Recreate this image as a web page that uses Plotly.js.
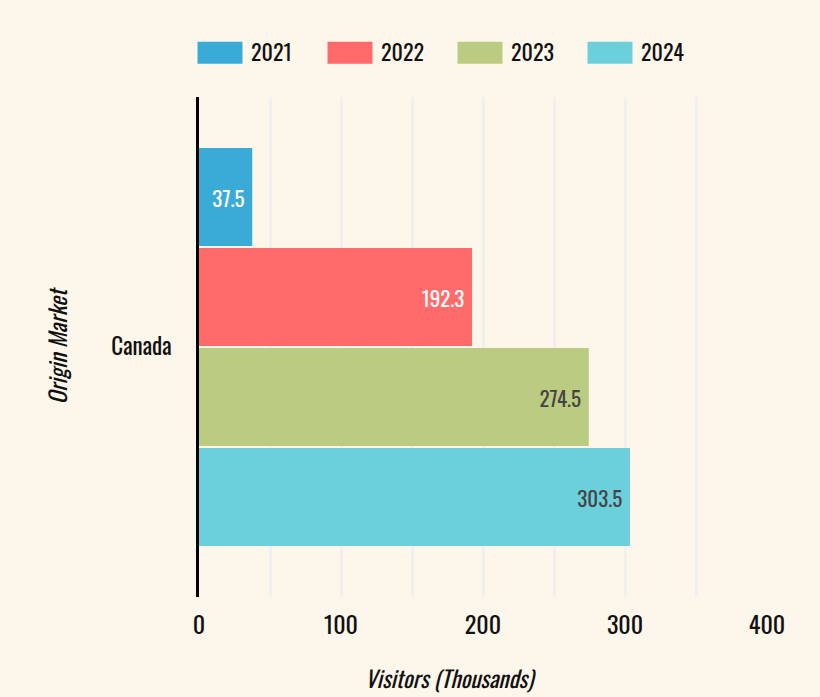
<!DOCTYPE html>
<html>
<head>
<meta charset="utf-8">
<script src="https://cdn.plot.ly/plotly-3.0.1.min.js"></script>
<style>html,body{margin:0;padding:0;background:#fdf6ea;}</style>
</head>
<body>
<div id="chart" style="width:820px;height:697px;"></div>
<script>
const categories = ["Canada"];
const years = ["2021", "2022", "2023", "2024"];
const v2021 = [37.5];
const v2022 = [192.3];
const v2023 = [274.5];
const v2024 = [303.5];
const seriesValues = [v2021, v2022, v2023, v2024];
const colors = ["#3aabd6", "#ff6b6b", "#bccb82", "#6bcfdc"];
const textColors = ["#ffffff", "#ffffff", "#444444", "#444444"];
const FONT = "Oswald, 'Liberation Sans Narrow', 'DejaVu Sans Condensed', sans-serif";

const traces = years.map((y, i) => ({
  type: "bar",
  orientation: "h",
  name: y,
  y: categories,
  x: seriesValues[i],
  marker: {color: colors[i]},
  texttemplate: "%{x:.1f}&nbsp;",
  textposition: "inside",
  insidetextanchor: "end",
  textfont: {color: textColors[i], size: 21, family: FONT},
  hoverinfo: "x+name"
}));

const layout = {
  width: 820, height: 697,
  paper_bgcolor: "#fdf6ea",
  plot_bgcolor: "#fdf6ea",
  font: {family: FONT, color: "#111111", size: 18},
  barmode: "group",
  bargap: 0.2,
  bargroupgap: 0.02,
  margin: {l: 199, r: 53, t: 97, b: 100},
  legend: {orientation: "h", x: -3 / 568, xanchor: "left", y: 1.088, yanchor: "middle",
           font: {size: 22, family: FONT}, traceorder: "normal",
           entrywidth: 70, entrywidthmode: "pixels", itemwidth: 45,
           bgcolor: "rgba(0,0,0,0)"},
  xaxis: {
    range: [0, 400],
    dtick: 100,
    showgrid: true, gridcolor: "#f0f0ee", gridwidth: 3,
    minor: {dtick: 50, showgrid: true, gridcolor: "#f0f0ee", gridwidth: 3},
    zeroline: false,
    showline: false,
    tickfont: {size: 24, family: FONT},
    ticks: "", ticklen: 0,
    ticklabelstandoff: 12
  },
  yaxis: {
    autorange: "reversed",
    showline: true, linecolor: "#000000", linewidth: 2.5,
    showgrid: false,
    tickfont: {size: 23, family: FONT},
    ticks: "", ticklen: 0,
    ticklabelstandoff: 20,
    title: {text: "<i>Origin Market</i>", font: {size: 23, family: FONT}, standoff: 38}
  },
  annotations: [{
    text: "<i>Visitors (Thousands)</i>",
    xref: "paper", yref: "paper",
    x: (450 - 199) / 568, y: (597 - 678) / 500,
    xanchor: "center", yanchor: "middle",
    showarrow: false,
    font: {size: 23, family: FONT, color: "#111111"}
  }]
};

function fixLegend() {
  document.querySelectorAll("#chart .legend .legendpoints path").forEach(p => {
    p.setAttribute("d", "M-26,-11H19V11H-26Z");
    p.style.strokeWidth = "0";
  });
}

Plotly.newPlot("chart", traces, layout, {displayModeBar: false}).then(gd => {
  fixLegend();
  gd.on("plotly_afterplot", fixLegend);
});
</script>
</body>
</html>
